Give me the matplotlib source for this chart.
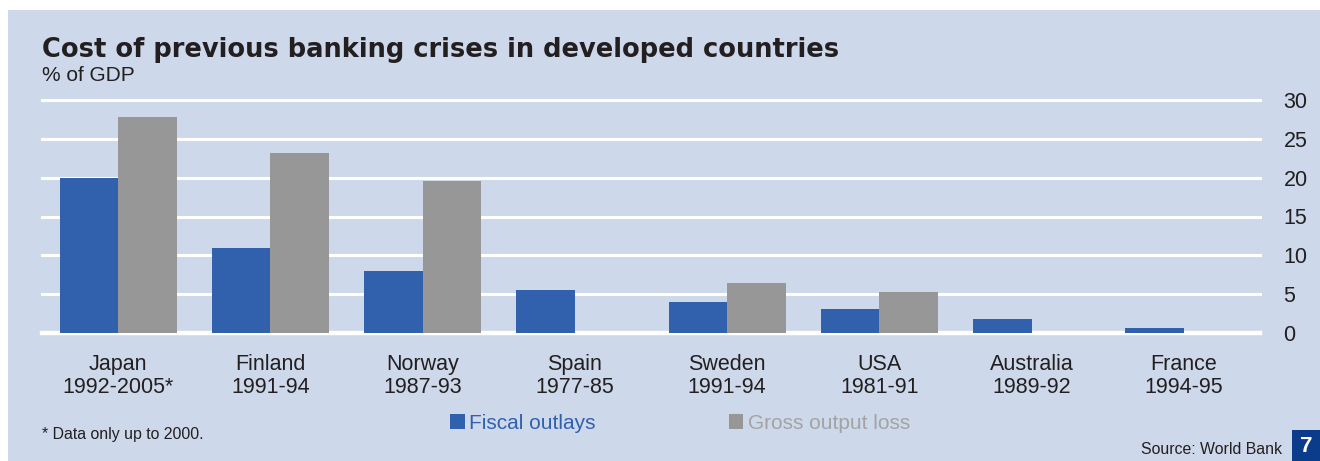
import numpy as np
import matplotlib.pyplot as plt
from matplotlib.patches import Rectangle

countries = ['Japan', 'Finland', 'Norway', 'Spain', 'Sweden', 'USA', 'Australia', 'France']
periods = ['1992-2005*', '1991-94', '1987-93', '1977-85', '1991-94', '1981-91', '1989-92', '1994-95']
fiscal_outlays = [20.0, 11.0, 8.0, 5.5, 4.0, 3.1, 1.8, 0.6]
gross_output_loss = [27.8, 23.2, 19.6, 0, 6.4, 5.3, 0, 0]
y_ticks = [0, 5, 10, 15, 20, 25, 30]

BG = '#CDD8EA'
BLUE = '#3160AD'
GREY = '#979797'
INK = '#231F20'

plt.rcParams['font.family'] = ['Liberation Sans', 'DejaVu Sans']

fig = plt.figure(figsize=(13.2, 4.61), dpi=100)
fig.patch.set_facecolor('white')
# light blue panel behind everything
fig.patches.append(Rectangle((8 / 1320, 0), 1 - 8 / 1320, 1 - 10 / 461,
                             transform=fig.transFigure, facecolor=BG,
                             edgecolor='none', zorder=-5))

ax = fig.add_axes([42 / 1320, 128 / 461, 1218 / 1320, 233 / 461])
ax.set_facecolor('none')

x = np.arange(len(countries))
w = 0.385
ax.bar(x - w / 2, fiscal_outlays, w, color=BLUE, label='Fiscal outlays', zorder=3)
ax.bar(x + w / 2, gross_output_loss, w, color=GREY, label='Gross output loss', zorder=3)

ax.set_xlim(-0.5, len(countries) - 0.5)
ax.set_ylim(0, 30)
ax.set_yticks(y_ticks)
for t in y_ticks:
    ax.axhline(t, color='white', lw=3.2 if t == 0 else 2.2, zorder=1, clip_on=False)

ax.yaxis.tick_right()
ax.tick_params(axis='y', which='both', length=0, pad=17, labelsize=15.5, labelcolor=INK)
ax.set_xticks(x)
ax.set_xticklabels([f'{c}\n{p}' for c, p in zip(countries, periods)],
                   fontsize=15.5, color=INK, linespacing=1.12)
ax.tick_params(axis='x', length=0, pad=15)
for s in ax.spines.values():
    s.set_visible(False)

fig.text(42 / 1320, 1 - 57 / 461, 'Cost of previous banking crises in developed countries',
         fontsize=18.5, fontweight='bold', color=INK, family='DejaVu Sans')
fig.text(42 / 1320, 1 - 81 / 461, '% of GDP', fontsize=15, color=INK)

leg = fig.legend(loc='center', bbox_to_anchor=(680 / 1320, 1 - 423 / 461), ncol=2,
                 frameon=False, fontsize=15, handlelength=0.7, handleheight=0.7,
                 handletextpad=0.2, columnspacing=6.4,
                 labelcolor=[BLUE, '#A3A3A3'])

fig.text(42 / 1320, 1 - 439 / 461, '* Data only up to 2000.', fontsize=11.4, color=INK)
fig.text(1282 / 1320, 1 - 454 / 461, 'Source: World Bank', fontsize=11.4,
         color=INK, ha='right')

fig.patches.append(Rectangle((1292 / 1320, 0), 1 - 1292 / 1320, 31 / 461,
                             transform=fig.transFigure, facecolor='#0B3C8C',
                             edgecolor='none', zorder=1))
fig.text(1306 / 1320, 1 - 446 / 461, '7', fontsize=16, fontweight='bold',
         color='white', ha='center', va='center')

fig.savefig('out.png', dpi=100)
